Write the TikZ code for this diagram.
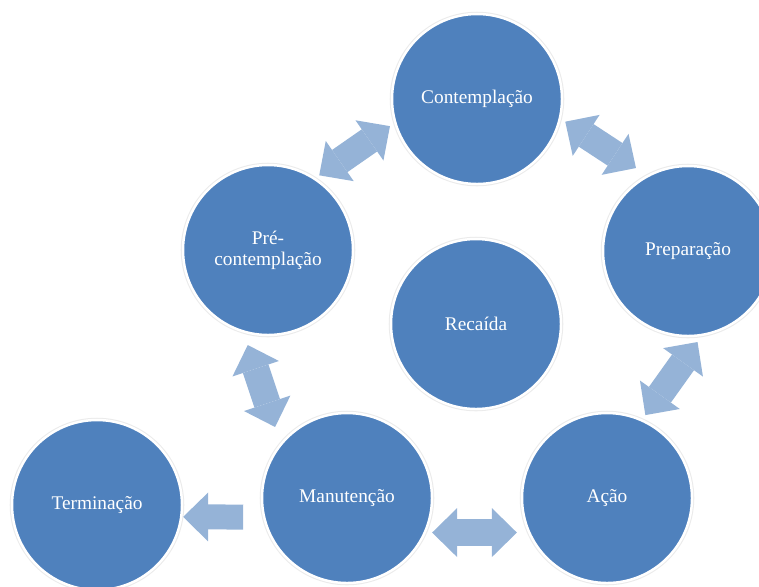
\documentclass[tikz,border=0pt]{standalone}
\usepackage{fontspec}
\setmainfont{Liberation Serif}
\usetikzlibrary{arrows.meta}

\definecolor{stageblue}{HTML}{4F81BD}
\definecolor{arrowblue}{HTML}{95B3D7}

\tikzset{
  stage/.style={circle, fill=stageblue, draw=white, line width=1.4pt,
    preaction={draw=black!8, line width=2.6pt},
    minimum size=3.4cm, inner sep=0pt, outer sep=0pt,
    text=white, align=center, font=\fontsize{11}{12}\selectfont},
  bighead/.tip={Triangle[length=0.5cm, width=0.98cm, line width=0pt]},
  twoway/.style={draw=arrowblue, line width=0.54cm, bighead-bighead},
  oneway/.style={draw=arrowblue, line width=0.5cm, -bighead}
}

\begin{document}
\begin{tikzpicture}[x=0.02cm, y=-0.02cm]
	%%%%% START %%%%%
	\useasboundingbox (0, 0) rectangle (759, 586);
	
	\node[stage] (cont) at (477, 99) {Contemplação};
	\node[stage] (pre) at (268, 250) {Pré-\\contemplação};
	\node[stage] (prep) at (688, 251) {Preparação};
	\node[stage] (rec) at (476, 324) {Recaída};
	
	\node[stage] (man) at (347, 498) {Manutenção};
	\node[stage] (acao) at (607, 498) {Ação};
	\node[stage] (term) at (97, 505) {Terminação};
	
	\draw[twoway, shorten <=0.12cm, shorten >=0.13cm] (pre.57) -- (cont.196);
	\draw[twoway, shorten <=0.13cm, shorten >=0.29cm] (cont.347) -- (prep.118);
	\draw[twoway, shorten <=0.18cm, shorten >=0.13cm] (prep.280) -- (acao.66);
	
	\draw[twoway, shorten <=0.29cm, shorten >=0.37cm] (pre.253) -- (man.141);
	\draw[twoway, shorten <=0.15cm, shorten >=0.25cm] (man.336) -- (acao.204);
	\draw[oneway, shorten <=0.42cm, shorten >=0.04cm] (man.193) -- (term.352);
	
	%%%%% END %%%%%
\end{tikzpicture}
\end{document}
